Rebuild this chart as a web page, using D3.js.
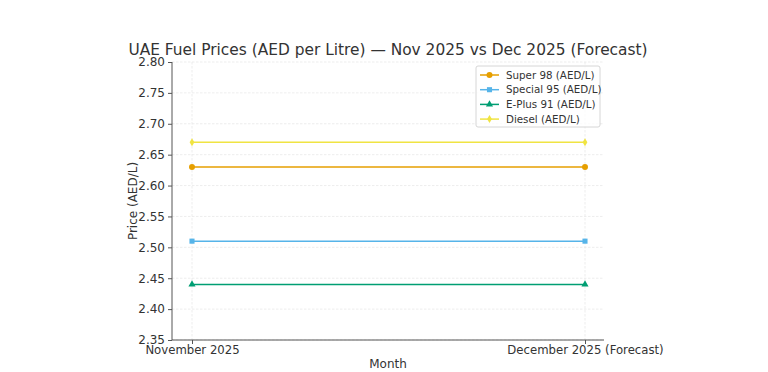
<!DOCTYPE html>
<html><head><meta charset="utf-8">
<script src="https://cdn.jsdelivr.net/npm/d3@7"></script>
<style>body{margin:0;background:#fff;} svg{display:block;font-family:"DejaVu Sans",sans-serif;}</style>
</head><body>
<svg id="c" width="768" height="372"></svg>
<script>
const months = ["November 2025", "December 2025 (Forecast)"];
const seriesNames = ["Super 98 (AED/L)", "Special 95 (AED/L)", "E-Plus 91 (AED/L)", "Diesel (AED/L)"];
const super98 = [2.63, 2.63];
const special95 = [2.51, 2.51];
const eplus91 = [2.44, 2.44];
const diesel = [2.67, 2.67];
const yTicks = [2.35, 2.40, 2.45, 2.50, 2.55, 2.60, 2.65, 2.70, 2.75, 2.80];
const colors = ["#E69F00", "#56B4E9", "#009E73", "#F0E442"];
const markers = ["circle", "square", "triangle", "diamond"];
const allValues = [super98, special95, eplus91, diesel];

const svg = d3.select("#c");
const L = 172, R = 604, T = 62, B = 340;
const x = d3.scalePoint().domain(months).range([192, 585]);
const y = d3.scaleLinear().domain([2.35, 2.80]).range([B, T]);

// grid
const g = svg.append("g");
g.selectAll(".hg").data(yTicks).enter().append("line")
  .attr("x1", L).attr("x2", R).attr("y1", d => y(d)).attr("y2", d => y(d))
  .attr("stroke", "#e8e8e8").attr("stroke-width", 0.8).attr("stroke-dasharray", "2.5,1.5");
g.selectAll(".vg").data(months).enter().append("line")
  .attr("x1", d => x(d)).attr("x2", d => x(d)).attr("y1", T).attr("y2", B)
  .attr("stroke", "#e8e8e8").attr("stroke-width", 0.8).attr("stroke-dasharray", "2.5,1.5");

// axes
const yAxis = d3.axisLeft(y).tickValues(yTicks).tickFormat(d3.format(".2f")).tickSize(4).tickPadding(3);
const ya = svg.append("g").attr("transform", `translate(${L},0)`).call(yAxis);
const xAxis = d3.axisBottom(x).tickSize(4).tickPadding(2);
const xa = svg.append("g").attr("transform", `translate(0,${B})`).call(xAxis);
[ya, xa].forEach(a => {
  a.select(".domain").remove();
  a.selectAll("text").attr("fill", "#333").style("font-size", "12px").style("font-family", "DejaVu Sans");
  a.selectAll("line").attr("stroke", "#555");
});
xa.selectAll("text").style("font-size", "11.7px");
svg.append("line").attr("x1", L).attr("x2", L).attr("y1", T).attr("y2", B).attr("stroke", "#555").attr("stroke-width", 1);
svg.append("line").attr("x1", L).attr("x2", R).attr("y1", B).attr("y2", B).attr("stroke", "#555").attr("stroke-width", 1);

// lines
const line = d3.line().x((d, i) => x(months[i])).y(d => y(d));
const symType = {circle: d3.symbolCircle, square: d3.symbolSquare, triangle: d3.symbolTriangle, diamond: d3.symbolDiamond};
function drawMarker(sel, type, cx, cy, color, scale) {
  if (type === "diamond") {
    sel.append("path").attr("d", `M${cx},${cy-4*scale}L${cx+2.4*scale},${cy}L${cx},${cy+4*scale}L${cx-2.4*scale},${cy}Z`).attr("fill", color);
  } else {
    const sz = {circle: 28, square: 26, triangle: 22}[type] * scale * scale;
    sel.append("path").attr("d", d3.symbol().type(symType[type]).size(sz)()).attr("transform", `translate(${cx},${cy})`).attr("fill", color);
  }
}
allValues.forEach((vals, k) => {
  svg.append("path").datum(vals).attr("d", line).attr("fill", "none").attr("stroke", colors[k]).attr("stroke-width", 1.5);
  vals.forEach((v, i) => drawMarker(svg, markers[k], x(months[i]), y(v), colors[k], 1));
});

// legend
const lg = svg.append("g");
lg.append("rect").attr("x", 476).attr("y", 66).attr("width", 124).attr("height", 61).attr("rx", 2)
  .attr("fill", "#fff").attr("fill-opacity", 0.8).attr("stroke", "#d6d6d6");
seriesNames.forEach((n, k) => {
  const yy = 75 + k * 14.7;
  lg.append("line").attr("x1", 480).attr("x2", 499).attr("y1", yy).attr("y2", yy).attr("stroke", colors[k]).attr("stroke-width", 1.5);
  drawMarker(lg, markers[k], 489.5, yy, colors[k], 1);
  lg.append("text").attr("x", 506).attr("y", yy + 3.5).text(n).attr("fill", "#333").style("font-size", "10.3px");
});

// titles
svg.append("text").attr("x", 388).attr("y", 55).attr("text-anchor", "middle").attr("fill", "#333")
  .style("font-size", "15.4px").text("UAE Fuel Prices (AED per Litre) — Nov 2025 vs Dec 2025 (Forecast)");
svg.append("text").attr("x", 388).attr("y", 368).attr("text-anchor", "middle").attr("fill", "#333")
  .style("font-size", "12px").text("Month");
svg.append("text").attr("transform", "translate(137,201) rotate(-90)").attr("text-anchor", "middle").attr("fill", "#333")
  .style("font-size", "12px").text("Price (AED/L)");
</script>
</body></html>
